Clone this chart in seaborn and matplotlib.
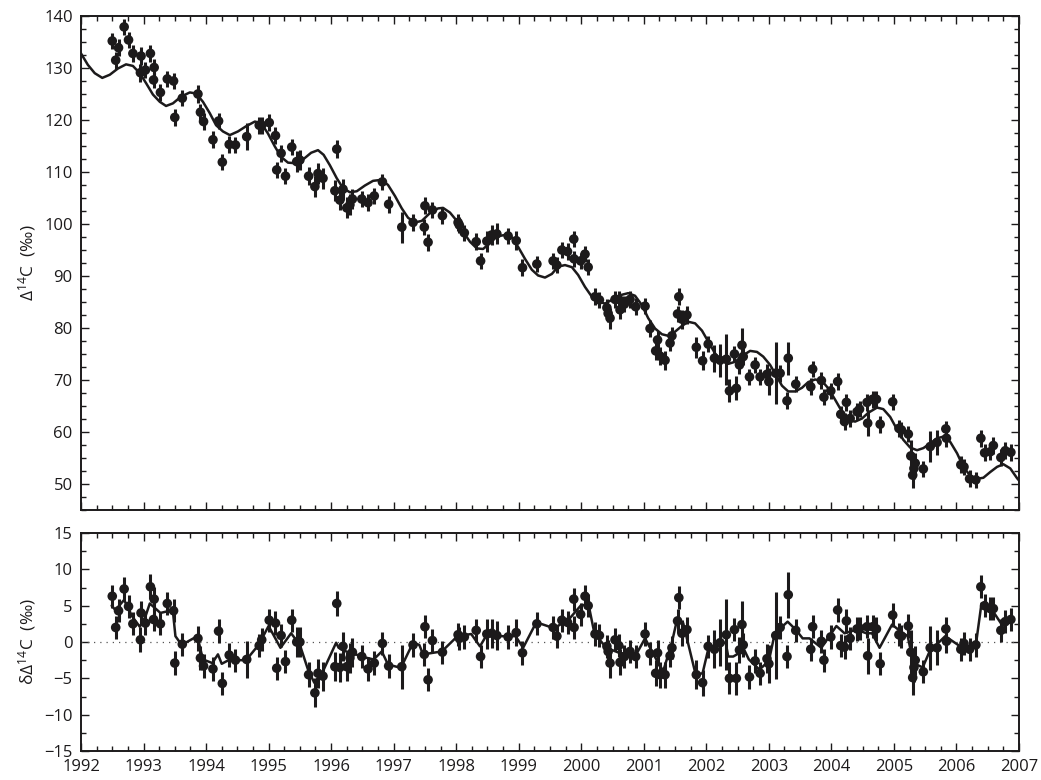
import numpy as np
import pandas as pd
import matplotlib
matplotlib.use("Agg")
import matplotlib.pyplot as plt
from matplotlib.ticker import MultipleLocator
import seaborn as sns

# ---------------- data ----------------
years = [1992.50, 1992.555, 1992.60, 1992.69, 1992.76, 1992.83, 1992.95, 1992.96, 1993.03, 1993.11,
         1993.16, 1993.17, 1993.27, 1993.38, 1993.48, 1993.50, 1993.62, 1993.87, 1993.91, 1993.96,
         1994.11, 1994.20, 1994.26, 1994.37, 1994.47, 1994.65, 1994.85, 1994.89, 1995.01, 1995.11,
         1995.13, 1995.20, 1995.27, 1995.37, 1995.45, 1995.50, 1995.64, 1995.74, 1995.79, 1995.87,
         1996.06, 1996.09, 1996.14, 1996.19, 1996.25, 1996.30, 1996.34, 1996.49, 1996.59, 1996.69,
         1996.82, 1996.92, 1997.13, 1997.31, 1997.49, 1997.50, 1997.55, 1997.62, 1997.78, 1998.03,
         1998.05, 1998.13, 1998.32, 1998.39, 1998.49, 1998.57, 1998.65, 1998.83, 1998.96, 1999.06,
         1999.29, 1999.55, 1999.61, 1999.69, 1999.78, 1999.88, 1999.885, 1999.99, 2000.06, 2000.11,
         2000.22, 2000.29, 2000.41, 2000.43, 2000.46, 2000.54, 2000.60, 2000.62, 2000.69, 2000.78,
         2000.87, 2001.02, 2001.10, 2001.19, 2001.22, 2001.26, 2001.34, 2001.42, 2001.45, 2001.54,
         2001.56, 2001.61, 2001.69, 2001.84, 2001.94, 2002.03, 2002.13, 2002.22, 2002.32, 2002.37,
         2002.45, 2002.48, 2002.53, 2002.57, 2002.59, 2002.69, 2002.78, 2002.86, 2002.97, 2003.00,
         2003.11, 2003.18, 2003.29, 2003.31, 2003.43, 2003.67, 2003.70, 2003.84, 2003.88, 2003.99,
         2004.10, 2004.15, 2004.21, 2004.24, 2004.30, 2004.41, 2004.45, 2004.57, 2004.58, 2004.66,
         2004.72, 2004.78, 2004.98, 2005.08, 2005.12, 2005.23, 2005.27, 2005.30, 2005.32, 2005.34,
         2005.47, 2005.58, 2005.69, 2005.83, 2005.84, 2006.07, 2006.12, 2006.21, 2006.31, 2006.39,
         2006.45, 2006.54, 2006.59, 2006.71, 2006.78, 2006.87]

d14c = [135.2, 131.5, 133.9, 137.9, 135.4, 132.8, 129.1, 132.3, 129.6, 132.8,
        127.7, 130.1, 125.3, 127.9, 127.5, 120.5, 124.2, 125.0, 121.5, 119.7,
        116.2, 119.8, 111.9, 115.3, 115.2, 116.8, 119.0, 119.0, 119.5, 117.0,
        110.4, 113.6, 109.2, 114.8, 112.0, 112.3, 109.2, 107.2, 109.7, 108.8,
        106.4, 114.4, 104.6, 106.7, 103.1, 103.7, 104.8, 104.8, 104.1, 105.4,
        108.1, 103.8, 99.4, 100.3, 99.4, 103.5, 96.5, 102.7, 101.6, 100.3,
        99.8, 98.3, 96.6, 92.9, 96.7, 97.9, 98.1, 97.7, 96.8, 91.6,
        92.3, 92.9, 92.1, 95.0, 94.7, 97.1, 93.3, 92.9, 94.2, 91.7,
        86.0, 85.4, 83.9, 82.8, 81.9, 85.5, 85.5, 83.5, 84.6, 85.5,
        84.1, 84.2, 79.9, 75.6, 77.7, 74.6, 73.8, 77.1, 78.5, 82.7,
        86.0, 81.7, 82.5, 76.3, 73.7, 76.9, 74.2, 73.8, 74.0, 67.9,
        75.0, 68.4, 72.9, 76.7, 74.5, 70.6, 72.9, 70.6, 71.1, 69.7,
        71.3, 71.3, 66.0, 74.2, 69.2, 68.7, 72.1, 69.9, 66.7, 67.9,
        69.7, 63.4, 62.0, 65.7, 62.6, 63.9, 64.4, 65.7, 61.7, 66.3,
        66.3, 61.5, 65.8, 60.7, 60.4, 59.6, 55.4, 51.7, 53.0, 54.0,
        52.9, 57.2, 58.0, 60.6, 58.8, 53.7, 53.3, 51.0, 50.8, 58.8,
        56.0, 56.2, 57.4, 55.1, 56.4, 56.1]

resid = [6.3, 2.0, 4.3, 7.3, 4.9, 2.5, 0.3, 4.0, 2.6, 7.6,
         3.1, 5.9, 2.5, 5.3, 4.3, -2.9, -0.3, 0.5, -2.2, -3.3,
         -3.7, 1.5, -5.7, -1.8, -2.5, -2.4, -0.5, 0.3, 3.0, 2.6,
         -3.6, 0.9, -2.7, 3.0, 0.0, 0.0, -4.5, -7.0, -4.3, -4.7,
         -3.4, 5.3, -3.5, -0.6, -3.4, -2.2, -1.4, -2.0, -3.7, -2.9,
         -0.2, -3.3, -3.4, -0.4, -1.7, 2.1, -5.2, 0.2, -1.4, 1.0,
         0.5, 0.7, 1.6, -2.0, 1.1, 1.2, 0.9, 0.7, 1.3, -1.5,
         2.5, 2.0, 0.8, 3.0, 2.7, 5.9, 2.0, 3.8, 6.3, 5.0,
         1.1, 0.9, -0.6, -1.3, -2.9, 0.3, -0.5, -2.8, -2.0, -1.3,
         -2.0, 1.1, -1.6, -4.3, -1.5, -4.5, -4.5, -1.9, -0.8, 2.9,
         6.1, 1.2, 1.7, -4.5, -5.6, -0.6, -1.0, -0.1, 1.0, -5.0,
         1.7, -5.0, -1.1, 2.4, -0.4, -4.8, -2.6, -4.3, -2.3, -3.0,
         0.9, 2.0, -2.0, 6.5, 1.6, -1.0, 2.1, 0.1, -2.5, 0.7,
         4.4, -0.5, -0.7, 2.9, 0.5, 1.8, 1.9, 2.1, -1.9, 2.1,
         1.8, -3.0, 3.7, 1.0, 0.8, 2.2, -1.4, -4.9, -3.5, -2.5,
         -4.1, -0.8, -0.8, 1.8, 0.1, -1.0, -0.2, -1.0, -0.4, 7.6,
         5.0, 4.6, 4.6, 1.6, 2.8, 3.1]

err = [1.6, 1.6, 1.6, 1.6, 1.6, 1.6, 1.7, 1.7, 1.6, 1.7,
       1.6, 1.7, 1.6, 1.6, 1.6, 1.6, 1.6, 1.7, 1.6, 1.6,
       1.6, 1.6, 1.6, 1.6, 1.6, 2.6, 1.6, 1.6, 1.6, 1.6,
       1.6, 1.6, 1.6, 1.6, 2.0, 2.0, 1.7, 2.0, 2.0, 2.0,
       2.0, 1.7, 2.0, 2.0, 2.0, 2.0, 2.0, 1.6, 1.6, 1.6,
       1.6, 1.6, 3.0, 1.6, 1.6, 1.6, 1.6, 1.6, 1.6, 1.6,
       1.6, 1.6, 1.6, 1.6, 2.0, 2.0, 2.0, 1.6, 1.8, 1.6,
       1.6, 1.6, 1.6, 1.6, 1.6, 1.6, 1.6, 1.6, 1.6, 1.6,
       1.6, 1.6, 1.6, 1.6, 2.0, 1.6, 1.6, 1.8, 1.6, 1.6,
       1.6, 1.6, 1.6, 1.8, 1.8, 1.8, 1.8, 1.6, 1.6, 1.6,
       1.6, 1.8, 1.8, 2.0, 1.8, 1.6, 2.6, 3.2, 4.9, 2.2,
       1.6, 2.3, 1.8, 3.3, 1.6, 1.6, 1.6, 1.6, 2.0, 2.6,
       6.0, 1.6, 1.6, 3.2, 1.6, 1.6, 1.6, 1.6, 1.6, 1.6,
       1.6, 1.6, 1.6, 1.6, 1.6, 1.6, 1.6, 1.6, 2.5, 1.6,
       1.6, 1.6, 1.6, 1.6, 1.6, 1.6, 3.1, 2.4, 2.0, 2.0,
       1.6, 3.0, 2.4, 1.6, 1.6, 1.6, 1.6, 1.6, 1.6, 1.6,
       1.6, 1.6, 1.6, 1.6, 1.6, 1.6]

# fitted curve (trend + seasonal)
fit_years = [1992.00, 1992.11, 1992.22, 1992.34, 1992.46, 1992.59, 1992.72, 1992.83, 1992.94, 1993.04,
             1993.15, 1993.26, 1993.36, 1993.47, 1993.60, 1993.74, 1993.84, 1993.95, 1994.06, 1994.16,
             1994.27, 1994.38, 1994.51, 1994.64, 1994.78, 1994.88, 1994.99, 1995.10, 1995.20, 1995.31,
             1995.42, 1995.55, 1995.68, 1995.79, 1995.88, 1995.98, 1996.09, 1996.19, 1996.30, 1996.41,
             1996.54, 1996.67, 1996.81, 1996.91, 1997.02, 1997.13, 1997.23, 1997.34, 1997.45, 1997.58,
             1997.71, 1997.79, 1997.90, 1998.01, 1998.11, 1998.22, 1998.33, 1998.43, 1998.54, 1998.65,
             1998.78, 1998.89, 1998.99, 1999.10, 1999.21, 1999.31, 1999.42, 1999.53, 1999.63, 1999.74,
             1999.85, 1999.95, 2000.06, 2000.17, 2000.27, 2000.38, 2000.49, 2000.62, 2000.75, 2000.86,
             2000.97, 2001.07, 2001.18, 2001.29, 2001.39, 2001.50, 2001.61, 2001.71, 2001.82, 2001.93,
             2002.03, 2002.14, 2002.25, 2002.35, 2002.46, 2002.57, 2002.70, 2002.81, 2002.91, 2003.02,
             2003.13, 2003.21, 2003.31, 2003.42, 2003.53, 2003.63, 2003.74, 2003.85, 2003.95, 2004.06,
             2004.17, 2004.27, 2004.38, 2004.49, 2004.59, 2004.73, 2004.83, 2004.94, 2005.04, 2005.15,
             2005.26, 2005.37, 2005.47, 2005.58, 2005.69, 2005.79, 2005.90, 2006.01, 2006.11, 2006.22,
             2006.33, 2006.43, 2006.54, 2006.65, 2006.75, 2006.86, 2006.97, 2007.02]
fit_vals = [132.8, 130.6, 129.0, 128.1, 128.7, 129.9, 130.7, 130.4, 129.0, 127.1,
            124.9, 123.5, 122.7, 123.2, 124.5, 125.3, 125.1, 123.5, 121.3, 119.0,
            117.8, 117.1, 117.8, 118.8, 119.7, 119.4, 117.4, 114.9, 112.9, 111.8,
            111.7, 112.4, 113.7, 114.2, 113.3, 111.3, 108.8, 106.9, 106.1, 106.3,
            107.4, 108.3, 108.5, 107.5, 105.4, 103.0, 101.2, 100.3, 100.6, 102.1,
            103.0, 103.1, 102.2, 100.6, 98.5, 96.6, 95.3, 95.2, 96.3, 97.6,
            97.9, 97.4, 95.6, 93.3, 91.2, 90.1, 89.7, 90.4, 91.8, 92.1,
            91.7, 90.2, 87.9, 86.0, 85.1, 84.7, 85.4, 86.3, 86.7, 86.2,
            84.4, 81.9, 79.9, 78.8, 78.5, 79.3, 80.4, 81.2, 80.9, 79.5,
            77.4, 75.1, 73.7, 73.1, 73.5, 74.6, 75.6, 75.4, 74.5, 72.9,
            70.6, 68.9, 67.8, 67.8, 68.5, 69.6, 70.1, 69.8, 68.4, 66.2,
            63.9, 62.3, 62.0, 62.6, 63.7, 64.7, 64.4, 62.9, 60.7, 58.5,
            57.0, 56.5, 56.9, 57.8, 58.8, 59.1, 58.1, 55.9, 53.3, 51.6,
            51.0, 51.2, 52.3, 53.3, 53.8, 53.0, 51.1, 50.4]

# smoothed residual line
sm_years = [1992.49, 1992.55, 1992.69, 1992.82, 1992.94, 1993.03, 1993.10, 1993.27, 1993.37, 1993.47,
            1993.51, 1993.61, 1993.86, 1993.95, 1994.10, 1994.19, 1994.25, 1994.36, 1994.64, 1994.84,
            1995.00, 1995.19, 1995.36, 1995.50, 1995.63, 1995.73, 1995.86, 1996.08, 1996.12, 1996.24,
            1996.34, 1996.48, 1996.68, 1996.81, 1996.91, 1997.09, 1997.13, 1997.31, 1997.41, 1997.47,
            1997.77, 1998.02, 1998.24, 1998.38, 1998.49, 1998.64, 1998.95, 1999.07, 1999.28, 1999.39,
            1999.56, 1999.79, 2000.00, 2000.12, 2000.21, 2000.40, 2000.61, 2000.76, 2000.86, 2001.02,
            2001.20, 2001.31, 2001.44, 2001.53, 2001.63, 2001.83, 2001.94, 2002.03, 2002.20, 2002.31,
            2002.35, 2002.43, 2002.53, 2002.59, 2002.68, 2002.85, 2003.00, 2003.09, 2003.16, 2003.30,
            2003.43, 2003.54, 2003.65, 2003.84, 2004.08, 2004.21, 2004.40, 2004.56, 2004.65, 2004.77,
            2004.97, 2005.10, 2005.22, 2005.31, 2005.46, 2005.57, 2005.82, 2006.06, 2006.21, 2006.31,
            2006.40, 2006.54, 2006.74, 2006.86]
sm_vals = [5.0, 4.4, 5.8, 3.5, 2.1, 3.5, 5.3, 4.0, 4.2, 4.2,
           0.8, -0.4, 0.8, -2.4, -2.9, -1.7, -3.0, -2.5, -2.5, -0.4,
           2.2, -0.8, 1.2, -0.4, -3.8, -5.6, -4.2, -0.1, -0.8, -1.3,
           -1.5, -2.0, -2.4, -1.3, -3.1, -3.5, -3.3, -0.1, -0.4, -1.7,
           -1.3, 0.8, 1.1, -0.6, 1.0, 0.8, 0.8, -0.8, 2.7, 2.4,
           1.9, 3.0, 5.1, 5.0, 1.2, -0.8, -1.5, -1.7, -2.0, 0.5,
           -2.4, -4.0, -0.4, 3.0, 2.6, -4.5, -4.3, -1.0, -0.1, -0.1,
           -2.0, -2.0, -1.5, -0.8, -2.4, -3.8, -2.6, 1.0, 1.7, 2.8,
           1.7, 0.5, 0.5, -0.8, 2.2, 1.2, 1.7, 1.2, 1.2, -0.8,
           2.4, 1.5, 0.8, -2.9, -3.5, -1.3, 0.8, -0.6, -0.6, -0.4,
           5.3, 4.8, 2.2, 3.0]

year_ticks = list(range(1992, 2008))
top_yticks = [50, 60, 70, 80, 90, 100, 110, 120, 130, 140]
bot_yticks = [-15, -10, -5, 0, 5, 10, 15]

# ---------------- style ----------------
sns.set_style("ticks")
plt.rcParams["font.family"] = ["Open Sans", "DejaVu Sans"]
plt.rcParams["mathtext.fontset"] = "custom"
plt.rcParams["mathtext.rm"] = "Open Sans"
plt.rcParams["mathtext.it"] = "Open Sans:italic"
INK = "#1c1a1b"

obs = pd.DataFrame({"year": years, "d14c": d14c, "resid": resid, "err": err})
fit = pd.DataFrame({"year": fit_years, "val": fit_vals})
sm = pd.DataFrame({"year": sm_years, "val": sm_vals})

fig = plt.figure(figsize=(10.41, 7.8), dpi=100)
ax1 = fig.add_axes([81 / 1041, 1 - 510 / 780, 938 / 1041, 494 / 780])
ax2 = fig.add_axes([81 / 1041, 1 - 751 / 780, 938 / 1041, 218 / 780])

# top panel
sns.lineplot(data=fit, x="year", y="val", ax=ax1, color=INK, lw=1.8, sort=False, estimator=None)
ax1.errorbar(obs["year"], obs["d14c"], yerr=obs["err"], fmt="none", ecolor=INK, elinewidth=2.2, capsize=0)
sns.scatterplot(data=obs, x="year", y="d14c", ax=ax1, color=INK, s=48, edgecolor="none", zorder=3)

# bottom panel
ax2.axhline(0, color="#555555", lw=0.9, ls=(0, (1, 4)))
sns.lineplot(data=sm, x="year", y="val", ax=ax2, color=INK, lw=1.8, sort=False, estimator=None)
ax2.errorbar(obs["year"], obs["resid"], yerr=obs["err"], fmt="none", ecolor=INK, elinewidth=2.2, capsize=0)
sns.scatterplot(data=obs, x="year", y="resid", ax=ax2, color=INK, s=48, edgecolor="none", zorder=3)

ax1.set_xlim(1992, 2007)
ax1.set_ylim(45, 140)
ax2.set_xlim(1992, 2007)
ax2.set_ylim(-15, 15)

for ax in (ax1, ax2):
    ax.set_xticks(year_ticks)
    ax.xaxis.set_minor_locator(MultipleLocator(0.25))
    ax.yaxis.set_minor_locator(MultipleLocator(2.5))
    ax.tick_params(which="both", direction="in", top=True, right=True, width=1.0, colors=INK,
                   labelsize=12, labelcolor=INK)
    ax.tick_params(which="major", length=6, pad=6)
    ax.tick_params(which="minor", length=3.5)
    for sp in ax.spines.values():
        sp.set_linewidth(1.4)
        sp.set_color(INK)
    ax.set_xlabel("")

ax1.set_yticks(top_yticks)
ax1.set_xticklabels([])
ax2.set_yticks(bot_yticks)
ax2.set_xticklabels([str(y) for y in year_ticks])

ax1.set_ylabel("Δ$^{14}$C  (‰)", fontsize=12.5, color=INK)
ax2.set_ylabel("δΔ$^{14}$C  (‰)", fontsize=12.5, color=INK)
ax1.yaxis.set_label_coords(-0.046, 0.5)
ax2.yaxis.set_label_coords(-0.046, 0.5)

fig.savefig("out.png", dpi=100)
